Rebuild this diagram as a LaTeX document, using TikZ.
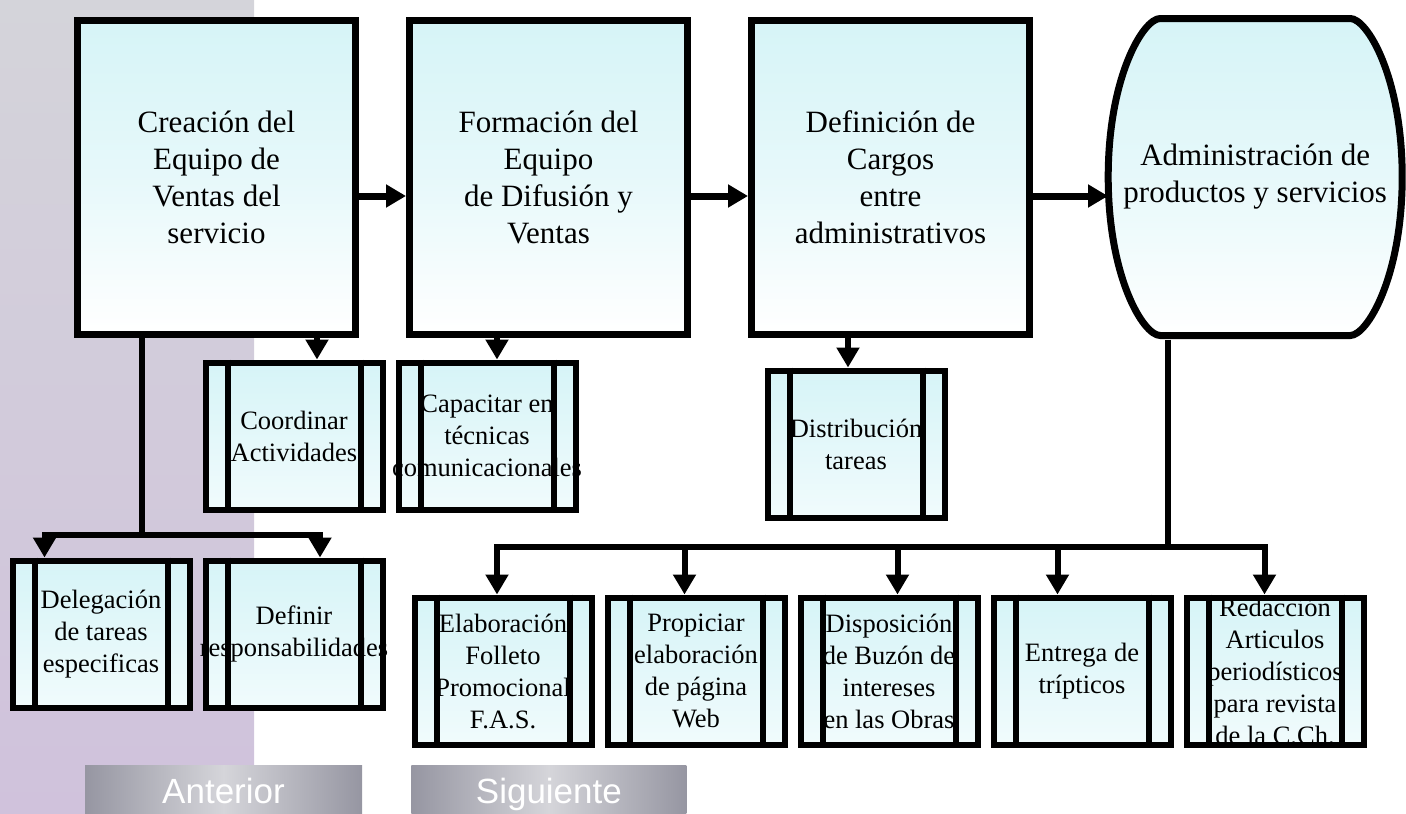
\documentclass[tikz,border=0pt]{standalone}
\usepackage{fontspec}
\setmainfont{Liberation Serif}
\setsansfont{Liberation Sans}
\usetikzlibrary{arrows.meta,positioning,backgrounds}
\definecolor{boxcyan}{RGB}{214,244,247}
\definecolor{texgray}{RGB}{212,212,218}
\definecolor{texlilac}{RGB}{208,194,220}
\definecolor{btngray}{RGB}{150,150,162}
\newcommand{\overrun}[1]{\makebox[0pt]{#1}}

\begin{document}
\begin{tikzpicture}[
  x=1pt,y=1pt,
  main/.style={draw,line width=7pt,minimum width=278pt,minimum height=314pt,align=center,inner sep=0pt,
    top color=boxcyan,bottom color=white,middle color=boxcyan!60,font=\fontsize{31}{37}\selectfont},
  sub/.style={draw,line width=6pt,minimum width=177pt,minimum height=147pt,align=center,inner sep=0pt,
    top color=boxcyan,bottom color=boxcyan!35,font=\fontsize{26.5}{32}\selectfont},
  bar/.style={line width=6pt},
  link/.style={line width=6pt},
  arr/.style={-{Triangle[length=20pt,width=22pt]},line width=6pt},
  biarr/.style={{Triangle[length=20pt,width=22pt]}-{Triangle[length=20pt,width=22pt]},line width=6pt},
  btn/.style={minimum width=277pt,minimum height=49pt,inner sep=0pt,text=white,
    text height=30pt,text depth=3pt,
    left color=btngray,right color=btngray,middle color=btngray!40!white,
    font=\sffamily\fontsize{35}{40}\selectfont}
]
  \useasboundingbox (0,0) rectangle (1406,-814);
  \fill[top color=texgray,bottom color=texlilac] (0,0) rectangle (254,-814);

  \node[main] (creacion) at (216.5,-177) {Creación del\\Equipo de\\Ventas del\\servicio};
  \node[main,right=47pt of creacion] (formacion) {Formación del\\Equipo\\de Difusión y\\Ventas};
  \node[main,right=57pt of formacion] (definicion) {Definición de\\Cargos\\entre\\administrativos};
  \node[right=75pt of definicion,minimum width=294pt,minimum height=325pt,align=center,inner sep=0pt,
    font=\fontsize{31}{37}\selectfont] (admin) {Administración de\\productos y servicios};
  \begin{scope}[on background layer,shift={(admin.center)}]
    \draw[line width=7pt,top color=boxcyan,bottom color=white,middle color=boxcyan!60]
      (-95,158.5) -- (95,158.5) .. controls (112,158.5) and (147,100) .. (147,0)
      .. controls (147,-100) and (112,-158.5) .. (95,-158.5) -- (-95,-158.5)
      .. controls (-112,-158.5) and (-147,-100) .. (-147,0)
      .. controls (-147,100) and (-112,158.5) .. (-95,158.5) -- cycle;
  \end{scope}
  \draw[arr,line width=7pt] ([yshift=-19pt]creacion.east) -- ([yshift=-19pt]formacion.west);
  \draw[arr,line width=7pt] ([yshift=-19pt]formacion.east) -- ([yshift=-19pt]definicion.west);
  \draw[arr,line width=7pt] ([yshift=-19pt]definicion.east) -- ([yshift=-19pt]admin.west);

  \node[sub,below=22pt of creacion,xshift=77.5pt] (coordinar) {Coordinar\\Actividades};
  \node[sub,right=10pt of coordinar] (capacitar) {Capacitar en\\técnicas\\\overrun{comunicacionales}};
  \node[sub,below=30pt of definicion,xshift=-34.5pt] (distribucion) {Distribución\\tareas};
  \node[sub,below=45pt of coordinar] (definir) {Definir\\\overrun{responsabilidades}};
  \node[sub,left=10pt of definir] (delegacion) {Delegación\\de tareas\\especificas};
  \node[sub,below=82pt of capacitar,xshift=16pt] (elaboracion) {Elaboración\\Folleto\\Promocional\\F.A.S.};
  \node[sub,right=10pt of elaboracion] (propiciar) {Propiciar\\elaboración\\de página\\Web};
  \node[sub,right=10pt of propiciar] (disposicion) {Disposición\\de Buzón de\\intereses\\en las Obras};
  \node[sub,right=10pt of disposicion] (entrega) {Entrega de\\trípticos};
  \node[sub,right=10pt of entrega] (redaccion) {Redacción\\Articulos\\periodísticos\\para revista\\de la C.Ch.};

  \foreach \n in {coordinar,capacitar,distribucion,definir,delegacion,elaboracion,propiciar,disposicion,entrega,redaccion}{
    \draw[bar] ([shift={(3pt,-3pt)}]\n.north west) rectangle ([shift={(-3pt,3pt)}]\n.south east);
    \draw[bar] ([xshift=25pt]\n.north west) -- ([xshift=25pt]\n.south west);
    \draw[bar] ([xshift=-25pt]\n.north east) -- ([xshift=-25pt]\n.south east);
  }

  \draw[arr] ([xshift=23pt]coordinar.north |- creacion.south) -- ([xshift=23pt]coordinar.north);
  \draw[arr] ([xshift=10pt]capacitar.north |- formacion.south) -- ([xshift=10pt]capacitar.north);
  \draw[arr] ([xshift=-8pt]distribucion.north |- definicion.south) -- ([xshift=-8pt]distribucion.north);

  \draw[link] ([xshift=-74.5pt]creacion.south) -- ++(0,-197.5) coordinate (busL);
  \draw[biarr] ([xshift=-56.5pt]delegacion.north) |- (busL) -| ([xshift=26pt]definir.north);

  \draw[link] ([xshift=-87.5pt]admin.south) -- ++(0,-207.5) coordinate (busR);
  \draw[biarr] ([xshift=-6pt]elaboracion.north) |- (busR) -| ([xshift=-10.5pt]redaccion.north);
  \foreach \n/\d in {propiciar/-11.5,disposicion/8.5,entrega/-24.5}
    \draw[arr] ([xshift=\d pt]\n.north |- busR) -- ([xshift=\d pt]\n.north);

  \node[btn] (anterior) at (223.5,-789.5) {Anterior};
  \node[btn,right=49pt of anterior,minimum width=275pt] (siguiente) {Siguiente};
\end{tikzpicture}
\end{document}
